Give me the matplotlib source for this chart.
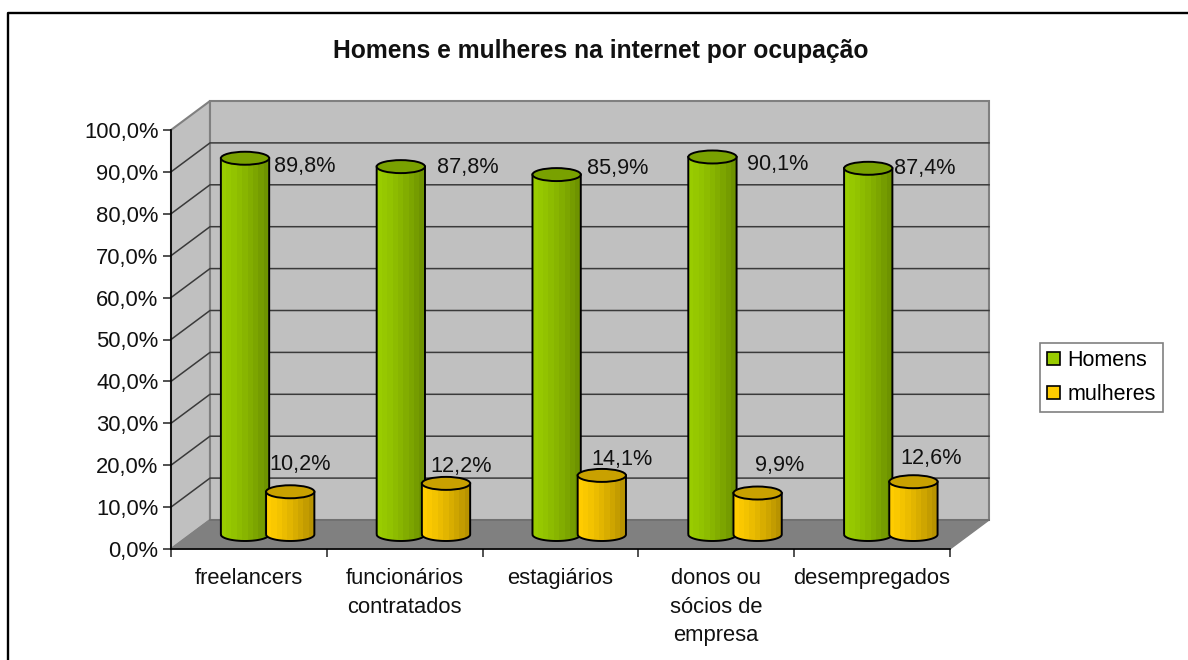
import numpy as np
import matplotlib
matplotlib.use('Agg')
import matplotlib.pyplot as plt
from matplotlib.patches import Patch, Ellipse, Polygon, PathPatch
from matplotlib.path import Path
from matplotlib.transforms import Affine2D

plt.rcParams['font.family'] = ['Liberation Sans', 'DejaVu Sans']

# dados
categorias = ['freelancers', 'funcionários\ncontratados', 'estagiários',
              'donos ou\nsócios de\nempresa', 'desempregados']
homens = [89.8, 87.8, 85.9, 90.1, 87.4]
mulheres = [10.2, 12.2, 14.1, 9.9, 12.6]
yticks = [0, 10, 20, 30, 40, 50, 60, 70, 80, 90, 100]

# deslocamento dos rotulos em relacao ao topo de cada barra (pixels, y para cima)
offs_h = [(60, -8), (67, -1), (61, 6), (65, -8), (57, 0)]
offs_m = [(10, 27), (15, 17), (20, 16), (22, 28), (18, 23)]

W, H = 1188, 660
fig = plt.figure(figsize=(W / 100, H / 100), dpi=100)
L, R, T, B = 171, 950, 130, 549
ax = fig.add_axes([L / W, 1 - B / H, (R - L) / W, (B - T) / H])
ax.set_xlim(0, 5)
ax.set_ylim(0, 100)
ax.patch.set_alpha(0)

# profundidade do grafico em pixels
DX, DY = 39, 29
back = ax.transData + Affine2D().translate(DX, DY)
mid = ax.transData + Affine2D().translate(DX / 2, DY / 2)
ident = Affine2D()

p00 = ax.transData.transform((0, 0))
p01 = ax.transData.transform((0, 100))
p50 = ax.transData.transform((5, 0))
b00 = back.transform((0, 0))
b01 = back.transform((0, 100))
b50 = back.transform((5, 0))
b51 = back.transform((5, 100))

# paredes e chao
parede = '#C0C0C0'
borda = '#808080'
ax.add_patch(Polygon([p00, p01, b01, b00], closed=True, transform=ident, fc=parede, ec=borda, lw=1.5, zorder=1, clip_on=False))
ax.add_patch(Polygon([b00, b01, b51, b50], closed=True, transform=ident, fc=parede, ec=borda, lw=1.5, zorder=1, clip_on=False))
ax.add_patch(Polygon([p00, p50, b50, b00], closed=True, transform=ident, fc='#808080', ec='#808080', lw=1, zorder=1, clip_on=False))

# linhas de grade
for v in yticks[1:-1]:
    a = ax.transData.transform((0, v))
    b = back.transform((0, v))
    c = back.transform((5, v))
    ax.plot([a[0], b[0], c[0]], [a[1], b[1], c[1]], transform=ident, color='#3a3a3a', lw=1.1, zorder=2, clip_on=False)
ax.plot([b00[0], b50[0]], [b00[1], b50[1]], transform=ident, color='#6e6e6e', lw=1.2, zorder=2, clip_on=False)

LARG = 0.31
ELL = 3.1  # altura da elipse em unidades de y

def cilindro(xc, v, cor, z):
    cor = np.array(matplotlib.colors.to_rgb(cor))
    x0, x1 = xc - LARG / 2, xc + LARG / 2
    t = np.linspace(np.pi, 2 * np.pi, 30)
    xs = xc + np.cos(t) * LARG / 2
    ys = np.sin(t) * ELL / 2
    verts = list(zip(xs, ys)) + [(x1, v), (x0, v), (x0, 0)]
    sil = Path(verts, closed=False)
    ax.add_patch(PathPatch(sil, transform=mid, fc=cor, ec='none', zorder=z, clip_on=False))
    # faixas do degrade
    n = 9
    edges = np.linspace(x0, x1, n + 1)
    for i in range(n):
        f = 1.0 - 0.28 * (i / (n - 1)) ** 1.3
        r = ax.bar((edges[i] + edges[i + 1]) / 2, v + ELL, edges[i + 1] - edges[i] + 0.002,
                   bottom=-ELL, color=cor * f, transform=mid, zorder=z, lw=0)[0]
        r.set_clip_path(PathPatch(sil, transform=mid))
    ax.add_patch(PathPatch(sil, transform=mid, fc='none', ec='black', lw=1.4, zorder=z + 0.1, clip_on=False))
    ax.add_patch(Ellipse((xc, v), LARG, ELL, transform=mid, fc=cor * 0.79, ec='black', lw=1.4, zorder=z + 0.2, clip_on=False))

verde, amarelo = '#99CC00', '#FFCC00'
for i in range(5):
    cilindro(i + 0.35, homens[i], verde, 3 + i)
    cilindro(i + 0.64, mulheres[i], amarelo, 3.5 + i)
    ax.annotate(f'{homens[i]:.1f}%'.replace('.', ','), (i + 0.35, homens[i]), xycoords=mid,
                xytext=offs_h[i], textcoords='offset pixels',
                ha='center', va='center', fontsize=15.6, color='#111111', zorder=20, annotation_clip=False)
    ax.annotate(f'{mulheres[i]:.1f}%'.replace('.', ','), (i + 0.64, mulheres[i]), xycoords=mid,
                xytext=offs_m[i], textcoords='offset pixels',
                ha='center', va='center', fontsize=15.6, color='#111111', zorder=20, annotation_clip=False)

# eixos
for s in ['top', 'right']:
    ax.spines[s].set_visible(False)
for s in ['left', 'bottom']:
    ax.spines[s].set_linewidth(1.2)
    ax.spines[s].set_zorder(15)
ax.set_yticks(yticks)
ax.set_yticklabels([f'{v:.1f}%'.replace('.', ',') for v in yticks], fontsize=15.8, color='#111111')
ax.set_xticks(range(6))
ax.set_xticklabels([])
ax.tick_params(axis='both', which='major', length=6, width=1.1, color='#222222', pad=3)
for i, c in enumerate(categorias):
    ax.annotate(c, (i + 0.5, 0), xycoords='data', xytext=(0, -19), textcoords='offset pixels',
                ha='center', va='top', fontsize=15.8, color='#111111', linespacing=1.47, annotation_clip=False)

fig.text(601 / W, 1 - 51 / H, 'Homens e mulheres na internet por ocupação', ha='center', va='center',
         fontsize=17.7, fontweight='bold', color='#111111')

# legenda
h = [Patch(fc=verde, ec='black', lw=1.2, label='Homens'), Patch(fc=amarelo, ec='black', lw=1.2, label='mulheres')]
leg = fig.legend(handles=h, loc='upper left', bbox_to_anchor=(1040 / W, 1 - 343 / H), fontsize=15.5,
                 fancybox=False, framealpha=1, edgecolor='#808080', handlelength=0.6, handleheight=0.6,
                 handletextpad=0.35, borderpad=0.33, labelspacing=0.6, borderaxespad=0)
leg.get_frame().set_linewidth(1.2)

# moldura
fig.add_artist(plt.Line2D([7.5 / W, 7.5 / W, 1], [0, 1 - 13 / H, 1 - 13 / H], color='black', lw=1.7))

fig.savefig('out.png', dpi=100)
